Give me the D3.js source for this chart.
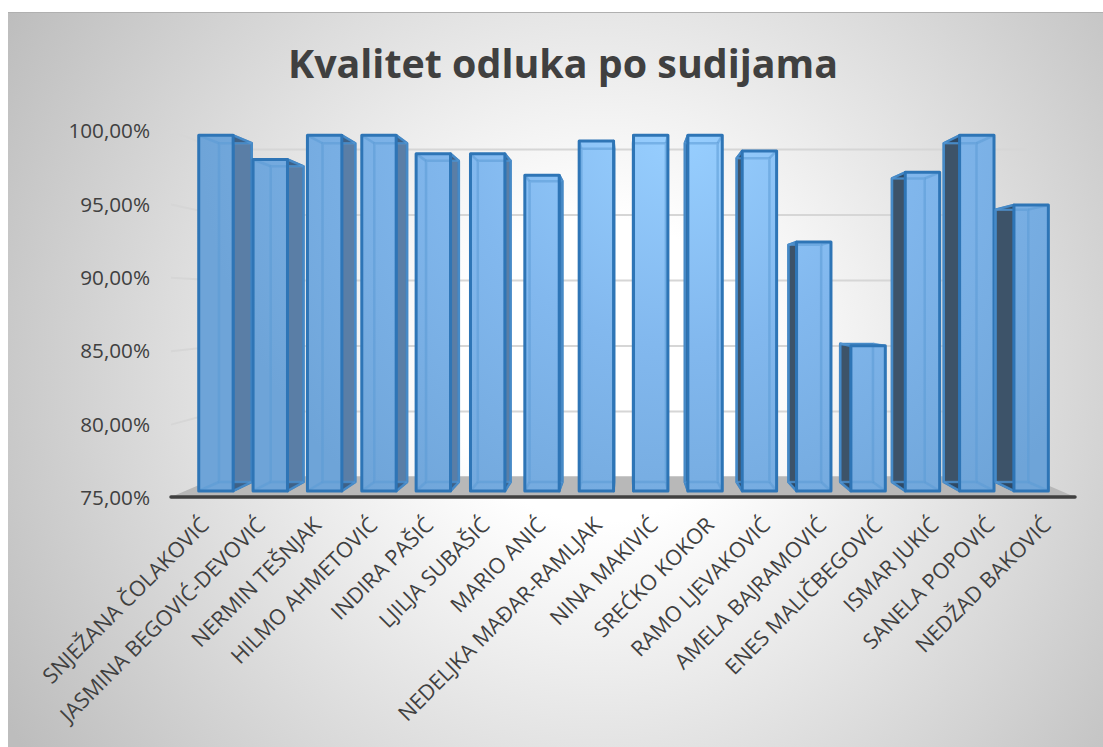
<!DOCTYPE html>
<html>
<head>
<meta charset="utf-8">
<script src="https://cdn.jsdelivr.net/npm/d3@7"></script>
<style>
  html, body { margin: 0; padding: 0; background: #fff; }
  svg { display: block; }
  text { font-family: "Open Sans", sans-serif; fill: #404040; }
</style>
</head>
<body>
<svg id="chart" width="1103" height="747"></svg>
<script>
const TITLE = "Kvalitet odluka po sudijama";
const judges = [
  "SNJEŽANA ČOLAKOVIĆ", "JASMINA BEGOVIĆ-DEVOVIĆ", "NERMIN TEŠNJAK", "HILMO AHMETOVIĆ",
  "INDIRA PAŠIĆ", "LJILJA SUBAŠIĆ", "MARIO ANIĆ", "NEDELJKA MAĐAR-RAMLJAK",
  "NINA MAKIVIĆ", "SREĆKO KOKOR", "RAMO LJEVAKOVIĆ", "AMELA BAJRAMOVIĆ",
  "ENES MALIČBEGOVIĆ", "ISMAR JUKIĆ", "SANELA POPOVIĆ", "NEDŽAD BAKOVIĆ"
];
const quality = [100, 98.3, 100, 100, 98.7, 98.7, 97.2, 99.6, 100, 100, 98.9, 92.5, 85.2, 97.4, 100, 95.1];
const yTicks = [75, 80, 85, 90, 95, 100];

// perspective: everything shrinks towards this point with depth
const VP_X = 625, VP_Y = 302;
const K_BAR_FRONT = 0.969, K_BAR_BACK = 0.923, K_WALL = 0.893;
const PLOT_L = 171, PLOT_R = 1075;

const svg = d3.select("#chart");
const defs = svg.append("defs");

const x = d3.scaleBand().domain(judges).range([175, 1072]).paddingInner(0.367).paddingOuter(0.18);
const xTick = d3.scaleBand().domain(judges).range([PLOT_L + 6, PLOT_R]);
const y = d3.scaleLinear().domain([75, 100]).range([497, 130]);

const project = (px, py, k) => [VP_X + (px - VP_X) * k, VP_Y + (py - VP_Y) * k];
const pts = arr => arr.map(p => p.join(",")).join(" ");

// background
const bg = defs.append("radialGradient").attr("id", "bg")
  .attr("gradientUnits", "userSpaceOnUse")
  .attr("cx", 600).attr("cy", 370).attr("r", 690);
bg.append("stop").attr("offset", 0.22).attr("stop-color", "#ffffff");
bg.append("stop").attr("offset", 1).attr("stop-color", "#bdbdbd");

svg.append("rect").attr("x", 8).attr("y", 12).attr("width", 1095).attr("height", 735).attr("fill", "url(#bg)");
svg.append("line").attr("x1", 8).attr("x2", 1103).attr("y1", 12.5).attr("y2", 12.5).attr("stroke", "#b0b0b0");

// bar colour falls off from the middle of the picture
const barFill = defs.append("radialGradient").attr("id", "barFill")
  .attr("gradientUnits", "userSpaceOnUse")
  .attr("cx", 680).attr("cy", 130).attr("r", 480);
barFill.append("stop").attr("offset", 0).attr("stop-color", "#98cfff");
barFill.append("stop").attr("offset", 0.45).attr("stop-color", "#82b8ee");
barFill.append("stop").attr("offset", 1).attr("stop-color", "#6ea4d8");

svg.append("text")
  .attr("x", 563).attr("y", 78)
  .attr("text-anchor", "middle")
  .style("font-size", "39.4px").style("font-weight", 700)
  .text(TITLE);

// floor
svg.append("polygon")
  .attr("points", pts([
    [PLOT_L, y(75)],
    project(PLOT_L, y(75), K_WALL),
    project(PLOT_R, y(75), K_WALL),
    [PLOT_R, y(75)]
  ]))
  .attr("fill", "#b8b8b8");

// gridlines: back wall and the left wall
const grid = svg.append("g").attr("transform", "translate(0,1)")
  .attr("fill", "none").attr("stroke", "#d6d6d6").attr("stroke-width", 2);
yTicks.slice(1).forEach(t => {
  const a = [PLOT_L, y(t)], b = project(PLOT_L, y(t), K_WALL), c = project(PLOT_R, y(t), K_WALL);
  grid.append("polyline").attr("points", pts([a, b, c]));
});

// y axis
const yAxis = svg.append("g")
  .attr("transform", "translate(158,1)")
  .call(d3.axisLeft(y).tickValues(yTicks).tickSize(0).tickPadding(8)
    .tickFormat(d => d3.format(".2f")(d).replace(".", ",") + "%"));
yAxis.select(".domain").remove();
yAxis.selectAll("text").style("font-size", "20.7px");

// bars
judges.forEach((name, i) => {
  const x0 = x(name), x1 = x0 + x.bandwidth();
  const yTop = y(quality[i]), yBase = y(75);
  const f = (px, py) => project(px, py, K_BAR_FRONT);
  const b = (px, py) => project(px, py, K_BAR_BACK);

  const g = svg.append("g").attr("stroke-linejoin", "round");

  // only the side turned to the viewer gets drawn solid
  const onLeft = (x0 + x1) / 2 < VP_X;
  const sx = onLeft ? x1 : x0;
  g.append("polygon")
    .attr("points", pts([f(sx, yTop), b(sx, yTop), b(sx, yBase), f(sx, yBase)]))
    .attr("fill", onLeft ? "#5a7ea6" : "#3d5369")
    .attr("stroke", "#2e75b6").attr("stroke-width", 2.5);

  [yTop, yBase].forEach(py => {
    g.append("polygon")
      .attr("points", pts([f(x0, py), f(x1, py), b(x1, py), b(x0, py)]))
      .attr("fill", "#1f3f60").attr("fill-opacity", 0.45)
      .attr("stroke", "#2e75b6").attr("stroke-width", 1.5);
  });

  g.append("polygon")
    .attr("points", pts([f(x0, yTop), f(x1, yTop), f(x1, yBase), f(x0, yBase)]))
    .attr("fill", "url(#barFill)");

  // back edges showing through the front face
  const wire = g.append("g").attr("fill", "none").attr("stroke", "#5b9bd5")
    .attr("stroke-opacity", 0.55).attr("stroke-width", 2.5);
  wire.append("polygon").attr("points", pts([b(x0, yTop), b(x1, yTop), b(x1, yBase), b(x0, yBase)]));
  [[x0, yTop], [x1, yTop], [x0, yBase], [x1, yBase]].forEach(([px, py]) => {
    wire.append("polyline").attr("points", pts([f(px, py), b(px, py)]));
  });

  // front outline is clipped to what the front face covers, so redraw it last
  g.append("polygon")
    .attr("points", pts([f(x0, yTop), f(x1, yTop), f(x1, yBase), f(x0, yBase)]))
    .attr("fill", "none").attr("stroke", "#2e75b6").attr("stroke-width", 3);
});

// front edge of the floor
svg.append("line")
  .attr("x1", PLOT_L).attr("x2", PLOT_R)
  .attr("y1", y(75)).attr("y2", y(75))
  .attr("stroke", "#404040").attr("stroke-width", 3.5).attr("stroke-linecap", "round");

// category labels
const xAxis = svg.append("g")
  .attr("transform", "translate(0,521)")
  .call(d3.axisBottom(xTick).tickSize(0).tickPadding(0));
xAxis.select(".domain").remove();
xAxis.selectAll("text")
  .attr("y", 0).attr("dy", "0.35em")
  .attr("text-anchor", "end")
  .attr("transform", "rotate(-45)")
  .style("font-size", "21.5px");
</script>
</body>
</html>
